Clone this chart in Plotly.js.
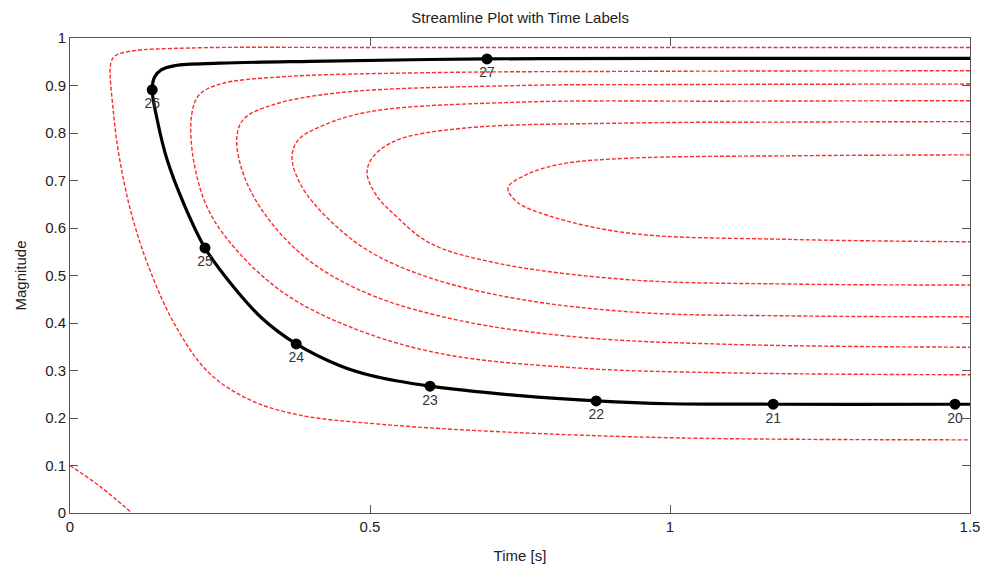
<!DOCTYPE html>
<html>
<head>
<meta charset="utf-8">
<script src="https://cdn.plot.ly/plotly-3.0.1.min.js"></script>
<style>html,body{margin:0;padding:0;background:#fff;}#chart{width:987px;height:576px;}</style>
</head>
<body>
<div id="chart"></div>
<script>
const loop1X = [1.5, 1.2, 0.933, 0.82, 0.76, 0.73, 0.745, 0.8, 0.933, 1.2, 1.5];
const loop1Y = [0.754, 0.752, 0.747, 0.735, 0.712, 0.684, 0.655, 0.625, 0.589, 0.576, 0.571];
const loop2X = [1.5, 1.2, 0.933, 0.655, 0.545, 0.505, 0.495, 0.51, 0.545, 0.6, 0.712, 0.933, 1.2, 1.5];
const loop2Y = [0.824, 0.823, 0.821, 0.81, 0.785, 0.75, 0.716, 0.67, 0.623, 0.568, 0.526, 0.491, 0.482, 0.48];
const loop3X = [1.5, 1.1, 0.75, 0.5, 0.42, 0.38, 0.37, 0.385, 0.43, 0.5, 0.6, 0.75, 0.95, 1.2, 1.5];
const loop3Y = [0.868, 0.867, 0.865, 0.845, 0.815, 0.785, 0.749, 0.69, 0.62, 0.55, 0.495, 0.45, 0.422, 0.415, 0.413];
const loop4X = [1.5, 1.0, 0.75, 0.45, 0.34, 0.29, 0.278, 0.29, 0.33, 0.4, 0.5, 0.65, 0.85, 1.1, 1.5];
const loop4Y = [0.903, 0.902, 0.900, 0.885, 0.86, 0.83, 0.79, 0.71, 0.62, 0.53, 0.46, 0.405, 0.37, 0.355, 0.349];
const loop5X = [1.5, 1.0, 0.6, 0.35, 0.25, 0.215, 0.203, 0.205, 0.23, 0.28, 0.36, 0.47, 0.62, 0.85, 1.1, 1.5];
const loop5Y = [0.931, 0.930, 0.927, 0.918, 0.903, 0.88, 0.84, 0.75, 0.64, 0.55, 0.46, 0.39, 0.335, 0.305, 0.295, 0.291];
const loop6X = [1.5, 1.0, 0.5, 0.2, 0.1, 0.075, 0.068, 0.072, 0.083, 0.103, 0.133, 0.175, 0.23, 0.3, 0.383, 0.517, 0.717, 1.017, 1.5];
const loop6Y = [0.98, 0.98, 0.98, 0.979, 0.972, 0.962, 0.947, 0.848, 0.743, 0.627, 0.512, 0.396, 0.297, 0.238, 0.206, 0.187, 0.171, 0.158, 0.154];
const cornerX = [0, 0.05, 0.103];
const cornerY = [0.1, 0.056, 0];

// Highlighted trajectory (black)
const pathX = [1.5, 1.475, 1.172, 1.0, 0.877, 0.75, 0.6, 0.5, 0.45, 0.377, 0.32, 0.27, 0.225, 0.19, 0.162, 0.145, 0.137, 0.141, 0.152, 0.175, 0.25, 0.4, 0.695, 1.0, 1.5];
const pathY = [0.229, 0.229, 0.229, 0.230, 0.236, 0.247, 0.267, 0.29, 0.31, 0.356, 0.41, 0.48, 0.558, 0.65, 0.743, 0.83, 0.891, 0.918, 0.933, 0.942, 0.947, 0.951, 0.956, 0.957, 0.957];

// Time-labelled points
const timeX = [1.475, 1.172, 0.877, 0.6, 0.377, 0.225, 0.137, 0.695];
const timeY = [0.229, 0.229, 0.236, 0.267, 0.356, 0.558, 0.891, 0.956];
const timeLabels = ['20', '21', '22', '23', '24', '25', '26', '27'];

const FONT = 'Liberation Sans, Arial, sans-serif';
const redLine = {color: '#ff2a2a', width: 1.4, dash: '4px,2px', shape: 'spline', smoothing: 1};
const loops = [[loop1X, loop1Y], [loop2X, loop2Y], [loop3X, loop3Y], [loop4X, loop4Y], [loop5X, loop5Y], [loop6X, loop6Y], [cornerX, cornerY]];
const traces = loops.map(([x, y]) => ({x, y, mode: 'lines', line: redLine, hoverinfo: 'skip', showlegend: false}));
traces.push({x: pathX, y: pathY, mode: 'lines', line: {color: '#000', width: 3.2, shape: 'spline', smoothing: 1}, showlegend: false});
traces.push({x: timeX, y: timeY, mode: 'markers+text', text: timeLabels, textposition: 'bottom center',
  textfont: {family: FONT, size: 14, color: '#333'},
  marker: {color: '#000', size: 11}, showlegend: false});

const axisCommon = {
  showline: true, linecolor: '#555', linewidth: 1, mirror: 'ticks', ticks: 'inside', ticklen: 8,
  tickcolor: '#555', showgrid: false, zeroline: false,
  tickfont: {family: FONT, size: 15, color: '#222'}
};

const layout = {
  width: 987, height: 576,
  margin: {l: 70, r: 17, t: 38, b: 63},
  paper_bgcolor: '#fff', plot_bgcolor: '#fff',
  title: {text: 'Streamline Plot with Time Labels', x: 0.527, xanchor: 'center', y: 0.97, yanchor: 'middle',
    font: {family: FONT, size: 15, color: '#222'}},
  xaxis: Object.assign({}, axisCommon, {range: [0, 1.5], tickvals: [0, 0.5, 1, 1.5], ticktext: ['0', '0.5', '1', '1.5'],
    title: {text: 'Time [s]', standoff: 16, font: {family: FONT, size: 15, color: '#222'}}}),
  yaxis: Object.assign({}, axisCommon, {range: [0, 1], dtick: 0.1, tick0: 0,
    title: {text: 'Magnitude', standoff: 14, font: {family: FONT, size: 15, color: '#222'}}}),
  showlegend: false
};

Plotly.newPlot('chart', traces, layout, {displayModeBar: false, staticPlot: true});
</script>
</body>
</html>
